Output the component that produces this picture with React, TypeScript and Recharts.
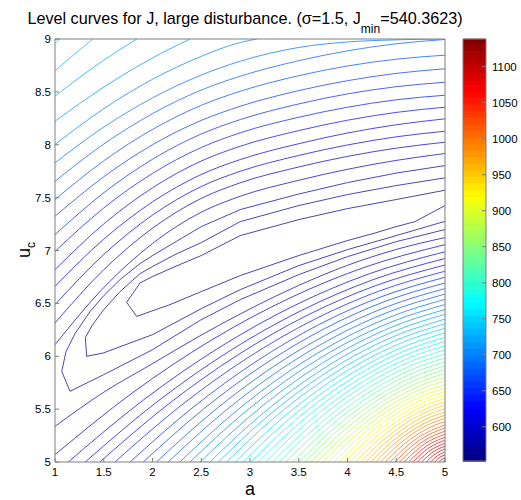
import React from 'react';
import { ComposedChart, Line, Bar, Cell, XAxis, YAxis } from 'recharts';

type P = [number, number];

const FONT = '"Liberation Sans", Arial, Helvetica, sans-serif';
const AXIS = '#7f7f7f';
const W = 521;
const H = 500;

const aTicks = [1, 1.5, 2, 2.5, 3, 3.5, 4, 4.5, 5];
const uTicks = [5, 5.5, 6, 6.5, 7, 7.5, 8, 8.5, 9];
const cbTicks = [600, 650, 700, 750, 800, 850, 900, 950, 1000, 1050, 1100];
const cbMin = 552.5;
const cbMax = 1138.5;
const cbSteps = 64;

// innermost (closed) level curves, J = 560, 570, 580
const innerLevels = [560, 570, 580];
const innerCurves: P[][] = [
  [[5,7.57],[4.5,7.482],[4,7.396],[3.5,7.292],[2.9,7.141],[2.5,6.952],[2.231,6.848],[2,6.753],[1.872,6.693],[1.735,6.51],[1.838,6.377],[2.179,6.488],[2.5,6.611],[2.9,6.763],[3.5,6.952],[4,7.094],[4.262,7.16],[4.5,7.226],[4.692,7.273],[4.826,7.339],[5,7.425]],
  [[5,7.687],[4.5,7.614],[4,7.529],[3.5,7.425],[2.9,7.273],[2.5,7.075],[2.231,6.961],[2,6.848],[1.872,6.781],[1.667,6.611],[1.5,6.441],[1.379,6.289],[1.311,6.176],[1.325,5.999],[1.495,6.031],[2,6.204],[2.5,6.45],[2.9,6.63],[3.5,6.857],[4,7.008],[4.5,7.141],[5,7.276]],
  [[5,7.803],[4.5,7.732],[4,7.642],[3.5,7.534],[2.9,7.387],[2.5,7.226],[2,6.952],[1.872,6.876],[1.667,6.725],[1.5,6.573],[1.359,6.422],[1.205,6.214],[1.113,6.044],[1.069,5.857],[1.154,5.668],[1.325,5.747],[1.5,5.826],[2,6.062],[2.5,6.346],[2.9,6.535],[3.5,6.772],[4,6.942],[4.5,7.084],[5,7.198]],
];

// upper branches (above the valley), J = 590 ... 740
const upperLevels = [590, 600, 610, 620, 630, 640, 650, 660, 670, 680, 690, 700, 710, 720, 730, 740];
const upperCurves: P[][] = [
  [[1,6.109],[1.5,6.649],[2,7.066],[2.5,7.362],[2.9,7.513],[3.5,7.664],[4,7.768],[4.5,7.852],[5,7.917]],
  [[1,6.315],[1.5,6.818],[2,7.211],[2.5,7.493],[2.9,7.64],[3.5,7.79],[4,7.89],[4.5,7.968],[5,8.024]],
  [[1,6.488],[1.5,6.962],[2,7.335],[2.5,7.605],[2.9,7.749],[3.5,7.899],[4,7.998],[4.5,8.075],[5,8.128]],
  [[1,6.661],[1.5,7.107],[2,7.46],[2.5,7.719],[2.9,7.86],[3.5,8.01],[4,8.111],[4.5,8.189],[5,8.245]],
  [[1,6.819],[1.5,7.251],[2,7.593],[2.5,7.846],[2.9,7.986],[3.5,8.134],[4,8.232],[4.5,8.306],[5,8.355]],
  [[1,6.992],[1.5,7.402],[2,7.729],[2.5,7.974],[2.9,8.113],[3.5,8.26],[4,8.355],[4.5,8.425],[5,8.468]],
  [[1,7.15],[1.5,7.546],[2,7.863],[2.5,8.102],[2.9,8.238],[3.5,8.386],[4,8.481],[4.5,8.549],[5,8.591]],
  [[1,7.324],[1.5,7.697],[2,8.0],[2.5,8.23],[2.9,8.364],[3.5,8.512],[4,8.606],[4.5,8.675],[5,8.718]],
  [[1,7.482],[1.5,7.848],[2,8.145],[2.5,8.373],[2.9,8.506],[3.5,8.653],[4,8.745],[4.5,8.809],[5,8.847]],
  [[1,7.655],[1.5,8.007],[2,8.294],[2.5,8.517],[2.9,8.648],[3.5,8.795],[4,8.888],[4.5,8.955],[5,8.995]],
  [[1,7.829],[1.5,8.167],[2,8.443],[2.5,8.659],[2.9,8.79],[3.5,8.92],[4,8.972],[4.5,8.992],[4.95,9.0]],
  [[1,8.002],[1.5,8.341],[2,8.619],[2.5,8.836],[2.9,8.967],[3.07,9.0]],
  [[1,8.222],[1.5,8.545],[2,8.821],[2.385,9.0]],
  [[1,8.459],[1.5,8.8],[1.84,9.0]],
  [[1,8.7],[1.195,8.853],[1.39,9.0]],
  [[1,8.96],[1.05,9.0]],
];

// lower branches (below the valley), J = 590 ... 1130
const lowerLevels = [590, 600, 610, 620, 630, 640, 650, 660, 670, 680, 690, 700, 710, 720, 730, 740, 750, 760, 770, 780, 790, 800, 810, 820, 830, 840, 850, 860, 870, 880, 890, 900, 910, 920, 930, 940, 950, 960, 970, 980, 990, 1000, 1010, 1020, 1030, 1040, 1050, 1060, 1070, 1080, 1090, 1100, 1110, 1120, 1130];
const lowerCurves: P[][] = [
  [[1,5.337],[1.5,5.66],[2,5.93],[2.5,6.2],[2.9,6.4],[3.5,6.67],[4,6.86],[4.5,7.01],[5,7.122]],
  [[1,5.07],[1.8,5.658],[2.6,6.15],[3.4,6.547],[4.2,6.849],[5,7.055]],
  [[1.136,5],[1.909,5.588],[2.682,6.081],[3.454,6.479],[4.227,6.781],[5,6.988]],
  [[1.31,5],[2.048,5.57],[2.786,6.047],[3.524,6.431],[4.262,6.724],[5,6.924]],
  [[1.46,5],[2.168,5.551],[2.876,6.013],[3.584,6.386],[4.292,6.669],[5,6.863]],
  [[1.615,5],[2.292,5.534],[2.969,5.981],[3.646,6.342],[4.323,6.616],[5,6.804]],
  [[1.77,5],[2.416,5.517],[3.062,5.95],[3.708,6.3],[4.354,6.565],[5,6.747]],
  [[1.905,5],[2.524,5.501],[3.143,5.921],[3.762,6.26],[4.381,6.517],[5,6.693]],
  [[2.04,5],[2.632,5.485],[3.224,5.892],[3.816,6.22],[4.408,6.469],[5,6.64]],
  [[2.16,5],[2.728,5.47],[3.296,5.864],[3.864,6.181],[4.432,6.423],[5,6.588]],
  [[2.28,5],[2.824,5.455],[3.368,5.837],[3.912,6.144],[4.456,6.378],[5,6.538]],
  [[2.385,5],[2.908,5.441],[3.431,5.81],[3.954,6.108],[4.477,6.334],[5,6.489]],
  [[2.49,5],[2.992,5.427],[3.494,5.784],[3.996,6.073],[4.498,6.292],[5,6.442]],
  [[2.59,5],[3.072,5.413],[3.554,5.759],[4.036,6.039],[4.518,6.251],[5,6.396]],
  [[2.675,5],[3.14,5.4],[3.605,5.735],[4.07,6.005],[4.535,6.21],[5,6.351]],
  [[2.76,5],[3.208,5.387],[3.656,5.711],[4.104,5.972],[4.552,6.171],[5,6.307]],
  [[2.85,5],[3.28,5.374],[3.71,5.688],[4.14,5.94],[4.57,6.133],[5,6.264]],
  [[2.93,5],[3.344,5.361],[3.758,5.664],[4.172,5.908],[4.586,6.094],[5,6.221]],
  [[3.009,5],[3.407,5.349],[3.805,5.642],[4.204,5.878],[4.602,6.057],[5,6.18]],
  [[3.085,5],[3.468,5.337],[3.851,5.62],[4.234,5.847],[4.617,6.021],[5,6.139]],
  [[3.159,5],[3.527,5.325],[3.895,5.598],[4.264,5.818],[4.632,5.985],[5,6.099]],
  [[3.23,5],[3.584,5.314],[3.938,5.577],[4.292,5.789],[4.646,5.95],[5,6.06]],
  [[3.3,5],[3.64,5.302],[3.98,5.555],[4.32,5.76],[4.66,5.915],[5,6.021]],
  [[3.368,5],[3.694,5.291],[4.021,5.535],[4.347,5.731],[4.674,5.881],[5,5.983]],
  [[3.435,5],[3.748,5.28],[4.061,5.515],[4.374,5.704],[4.687,5.848],[5,5.946]],
  [[3.5,5],[3.8,5.269],[4.1,5.494],[4.4,5.676],[4.7,5.814],[5,5.909]],
  [[3.563,5],[3.85,5.258],[4.138,5.475],[4.425,5.65],[4.713,5.782],[5,5.873]],
  [[3.625,5],[3.9,5.248],[4.175,5.455],[4.45,5.623],[4.725,5.75],[5,5.837]],
  [[3.686,5],[3.949,5.237],[4.212,5.436],[4.474,5.596],[4.737,5.718],[5,5.801]],
  [[3.746,5],[3.997,5.227],[4.248,5.417],[4.498,5.57],[4.749,5.686],[5,5.766]],
  [[3.804,5],[4.043,5.217],[4.282,5.398],[4.522,5.545],[4.761,5.656],[5,5.732]],
  [[3.862,5],[4.09,5.207],[4.317,5.38],[4.545,5.52],[4.772,5.626],[5,5.699]],
  [[3.918,5],[4.134,5.197],[4.351,5.362],[4.567,5.495],[4.784,5.596],[5,5.665]],
  [[3.974,5],[4.179,5.187],[4.384,5.344],[4.59,5.47],[4.795,5.566],[5,5.632]],
  [[4.028,5],[4.222,5.178],[4.417,5.326],[4.611,5.446],[4.806,5.538],[5,5.6]],
  [[4.082,5],[4.266,5.168],[4.449,5.308],[4.633,5.422],[4.816,5.508],[5,5.567]],
  [[4.135,5],[4.308,5.159],[4.481,5.292],[4.654,5.399],[4.827,5.48],[5,5.536]],
  [[4.187,5],[4.35,5.149],[4.513,5.274],[4.675,5.375],[4.838,5.452],[5,5.504]],
  [[4.239,5],[4.391,5.14],[4.544,5.257],[4.696,5.351],[4.848,5.423],[5,5.472]],
  [[4.289,5],[4.431,5.131],[4.573,5.24],[4.716,5.329],[4.858,5.396],[5,5.442]],
  [[4.339,5],[4.471,5.122],[4.603,5.224],[4.736,5.307],[4.868,5.369],[5,5.412]],
  [[4.389,5],[4.511,5.113],[4.633,5.207],[4.756,5.283],[4.878,5.341],[5,5.381]],
  [[4.437,5],[4.719,5.228],[5,5.35]],
  [[4.486,5],[4.743,5.209],[5,5.322]],
  [[4.533,5],[4.767,5.19],[5,5.292]],
  [[4.58,5],[4.79,5.171],[5,5.263]],
  [[4.626,5],[4.813,5.152],[5,5.234]],
  [[4.672,5],[4.836,5.134],[5,5.206]],
  [[4.717,5],[4.859,5.115],[5,5.177]],
  [[4.762,5],[4.881,5.097],[5,5.149]],
  [[4.807,5],[4.904,5.079],[5,5.122]],
  [[4.851,5],[4.926,5.061],[5,5.094]],
  [[4.894,5],[4.947,5.044],[5,5.067]],
  [[4.937,5],[4.969,5.026],[5,5.04]],
  [[4.98,5],[4.99,5.008],[5,5.013]],
];

const jet = (f: number) => {
  const c = (v: number) => Math.round(255 * Math.max(0, Math.min(1, v)));
  return `rgb(${c(1.5 - Math.abs(4 * f - 3))},${c(1.5 - Math.abs(4 * f - 2))},${c(1.5 - Math.abs(4 * f - 1))})`;
};
const levelColor = (L: number) => jet((L - cbMin) / (cbMax - cbMin));

const toPts = (c: P[]) => c.map(([a, u]) => ({ a, u }));

type Series = { L: number; pts: P[]; t: 'linear' | 'monotone' };
const series: Series[] = [
  ...innerLevels.map((L, i) => ({ L, pts: innerCurves[i], t: 'linear' as const })),
  ...upperLevels.map((L, i) => ({ L, pts: upperCurves[i], t: 'monotone' as const })),
  ...lowerLevels.map((L, i) => ({ L, pts: lowerCurves[i], t: 'monotone' as const })),
];

// colour bar bands (jet colormap, top band first)
const bandData = Array.from({ length: cbSteps }, (_, i) => {
  const k = cbSteps - 1 - i;
  return { id: String(i), v: 1, color: jet((k + 0.5) / cbSteps) };
});

const tickStyle = { fill: '#000', fontSize: 11.5, fontFamily: FONT };

export default function App() {
  return (
    <div style={{ position: 'absolute', left: 0, top: 0, width: W, height: H, background: '#fff' }}>
      <div style={{ position: 'absolute', left: 0, top: 0 }}>
        <ComposedChart width={W} height={H} margin={{ top: 29, right: 66, bottom: 0, left: 0 }}>
          <XAxis xAxisId="x" type="number" dataKey="a" domain={[1, 5]} ticks={aTicks} interval={0} allowDataOverflow
            height={38} tickSize={-4} tickMargin={10} stroke={AXIS} tick={tickStyle} />
          <XAxis xAxisId="xt" orientation="top" type="number" domain={[1, 5]} ticks={aTicks} interval={0} allowDataOverflow
            height={10} tickSize={-4} stroke={AXIS} tick={false} />
          <YAxis yAxisId="y" type="number" domain={[5, 9]} ticks={uTicks} interval={0} allowDataOverflow
            width={55} tickSize={-4} tickMargin={8} stroke={AXIS} tick={tickStyle} />
          <YAxis yAxisId="yr" orientation="right" type="number" domain={[5, 9]} ticks={uTicks} interval={0} allowDataOverflow
            width={10} tickSize={-4} stroke={AXIS} tick={false} />
          {series.map((s, i) => (
            <Line key={i} xAxisId="x" yAxisId="y" data={toPts(s.pts)} dataKey="u" type={s.t}
              stroke={levelColor(s.L)} strokeOpacity={0.72} strokeWidth={1} dot={false} activeDot={false} isAnimationActive={false} />
          ))}
        </ComposedChart>
      </div>
      <div style={{ position: 'absolute', left: 0, top: 0 }}>
        <ComposedChart layout="vertical" width={W} height={H} data={bandData} barCategoryGap={0}
          margin={{ top: 39, right: 35, bottom: 39, left: 463 }}>
          <XAxis xAxisId="bx" type="number" domain={[0, 1]} hide allowDataOverflow />
          <YAxis yAxisId="by" type="category" dataKey="id" hide />
          <Bar xAxisId="bx" yAxisId="by" dataKey="v" isAnimationActive={false}>
            {bandData.map((d, i) => (
              <Cell key={i} fill={d.color} stroke={d.color} strokeWidth={0.6} />
            ))}
          </Bar>
        </ComposedChart>
      </div>
      <div style={{ position: 'absolute', left: 0, top: 0 }}>
        <ComposedChart width={W} height={H} margin={{ top: 29, right: 0, bottom: 29, left: 453 }}>
          <XAxis xAxisId="cx" type="number" domain={[0, 1]} height={10} tick={false} tickLine={false} stroke={AXIS} allowDataOverflow />
          <XAxis xAxisId="cxt" orientation="top" type="number" domain={[0, 1]} height={10} tick={false} tickLine={false} stroke={AXIS} allowDataOverflow />
          <YAxis yAxisId="cyl" type="number" domain={[cbMin, cbMax]} ticks={cbTicks} interval={0} width={10} tick={false}
            tickSize={-4} stroke={AXIS} allowDataOverflow />
          <YAxis yAxisId="cy" orientation="right" type="number" domain={[cbMin, cbMax]} ticks={cbTicks} interval={0} allowDataOverflow
            width={35} tickSize={-4} tickMargin={10} stroke={AXIS} tick={tickStyle} />
        </ComposedChart>
      </div>
      <svg width={W} height={H} style={{ position: 'absolute', left: 0, top: 0, pointerEvents: 'none' }}>
        <text x={245} y={24} textAnchor="middle" fontSize={16.2} fontFamily={FONT} fill="#000">
          Level curves for J, large disturbance. (σ=1.5, J
          <tspan fontSize={12} dy={9}>min</tspan>
          <tspan dy={-9}>=540.3623)</tspan>
        </text>
        <text x={250} y={495} textAnchor="middle" fontSize={18} fontFamily={FONT} fill="#000">a</text>
        <text transform="translate(30,250) rotate(-90)" textAnchor="middle" fontSize={18} fontFamily={FONT} fill="#000">
          u<tspan fontSize={12} dy={5}>c</tspan>
        </text>
      </svg>
    </div>
  );
}
